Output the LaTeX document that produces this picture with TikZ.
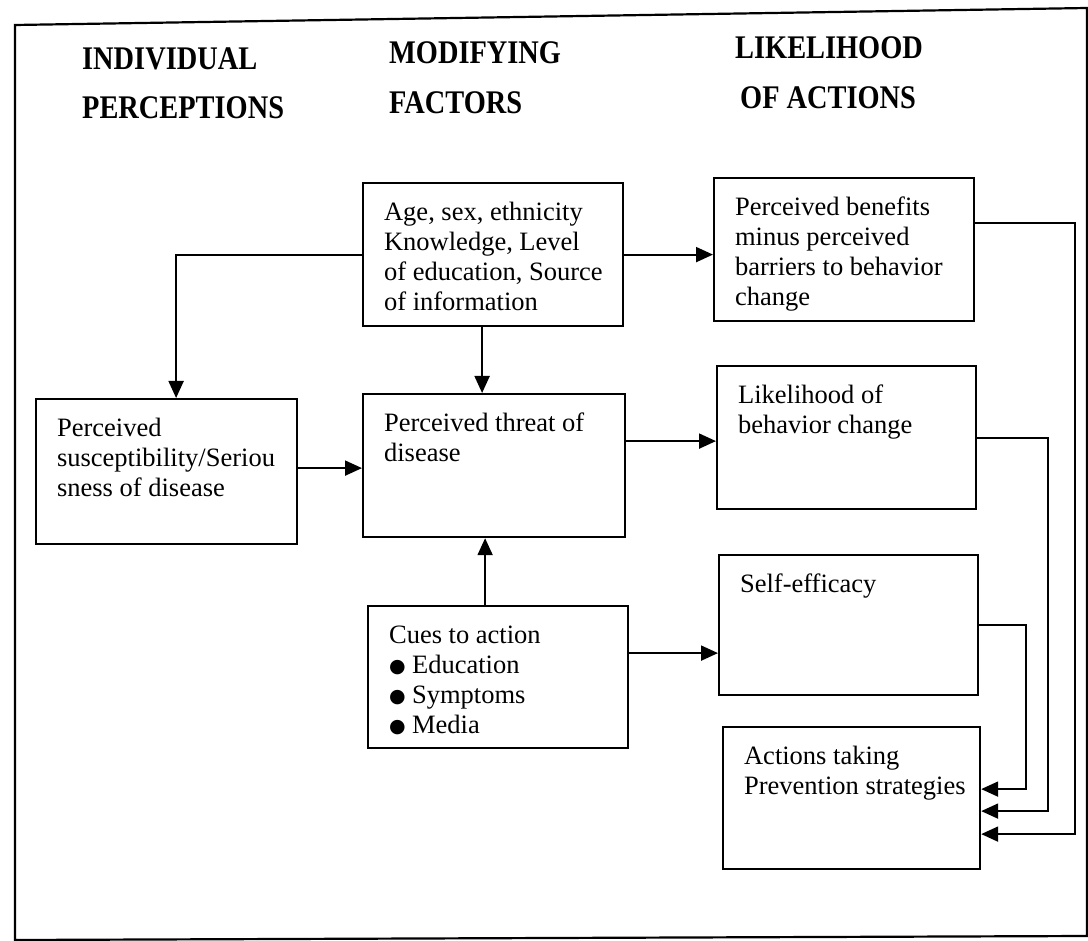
\documentclass[tikz,border=0pt]{standalone}
\usepackage{fontspec}
\setmainfont{Liberation Serif}
\newfontfamily\symfont{DejaVu Sans}
\usepackage{graphicx}
\usetikzlibrary{arrows.meta}
\newcommand\bt[3]{\begin{minipage}[c][#2pt][t]{#1pt}\raggedright\leftskip=21pt\relax\parindent=0pt\vspace*{16pt}\strut #3\par\end{minipage}}
\newcommand\bul{\makebox[23pt][l]{\raisebox{0.5pt}{\symfont\fontsize{19}{19}\selectfont ●}}}
\newcommand\hd[1]{\scalebox{0.86}[1]{\bfseries\fontsize{33}{33}\selectfont #1}}
\begin{document}
\begin{tikzpicture}[x=1pt,y=-1pt,
  box/.style={draw, line width=2.2pt, anchor=north west, inner sep=0pt, font=\fontsize{26.5}{30}\selectfont},
  head/.style={anchor=base west, inner sep=0pt},
  arr/.style={line width=2pt, -{Triangle[length=17pt,width=15pt]}},
  frame/.style={line width=2.2pt}]
\useasboundingbox (0,0) rectangle (1088,941);
\draw[frame] (15,25) -- (1087,8) -- (1087,936) -- (15,940) -- cycle;
% headings
\node[head] (h1a) at (82,70) {\hd{INDIVIDUAL}};
\node[head] (h1b) at (82,119) {\hd{PERCEPTIONS}};
\node[head] (h2a) at (389,64) {\hd{MODIFYING}};
\node[head] (h2b) at (389,114) {\hd{FACTORS}};
\node[head] (h3a) at (735,59) {\hd{LIKELIHOOD}};
\node[head] (h3b) at (740,109) {\hd{OF ACTIONS}};
% boxes
\node[box] (age) at (362,182) {\bt{260}{143}{Age, sex, ethnicity\\Knowledge, Level\\of education, Source\\of information}};
\node[box] (ben) at (713,177) {\bt{260}{143}{Perceived benefits\\minus perceived\\barriers to behavior\\change}};
\node[box] (susc) at (35,398) {\bt{261}{145}{Perceived\\susceptibility/Seriou\\sness of disease}};
\node[box] (threat) at (362,393) {\bt{262}{143}{Perceived threat of\\disease}};
\node[box] (lik) at (716,365) {\bt{259}{143}{Likelihood of\\behavior change}};
\node[box] (self) at (718,554) {\bt{259}{140}{Self-efficacy}};
\node[box] (cues) at (367,605) {\bt{260}{142}{Cues to action\\\bul Education\\\bul Symptoms\\\bul Media}};
\node[box] (act) at (722,726) {\bt{257}{142}{Actions taking\\Prevention strategies}};
% connector start points
\coordinate (s1) at ([yshift=3.5pt]susc.east);
\coordinate (s2) at ([yshift=24.5pt]threat.east);
\coordinate (s3) at ([yshift=24pt]cues.east);
\coordinate (s4) at ([xshift=-11pt]age.south);
\coordinate (s5) at ([xshift=-13pt]cues.north);
% connectors
\draw[arr] (age.west) -| ([xshift=9.5pt]susc.north);
\draw[arr] (age.east) -- (ben.west |- age.east);
\draw[arr] (s4) -- (s4 |- threat.north);
\draw[arr] (s1) -- (threat.west |- s1);
\draw[arr] (s2) -- (lik.west |- s2);
\draw[arr] (s5) -- (s5 |- threat.south);
\draw[arr] (s3) -- (self.west |- s3);
\draw[arr] ([yshift=26.5pt]ben.east) -- ++(100,0) |- ([yshift=-36pt]act.east);
\draw[arr] (lik.east) -- ++(71,0) |- ([yshift=-13pt]act.east);
\draw[arr] (self.east) -- ++(47,0) |- ([yshift=9pt]act.east);
\end{tikzpicture}
\end{document}
